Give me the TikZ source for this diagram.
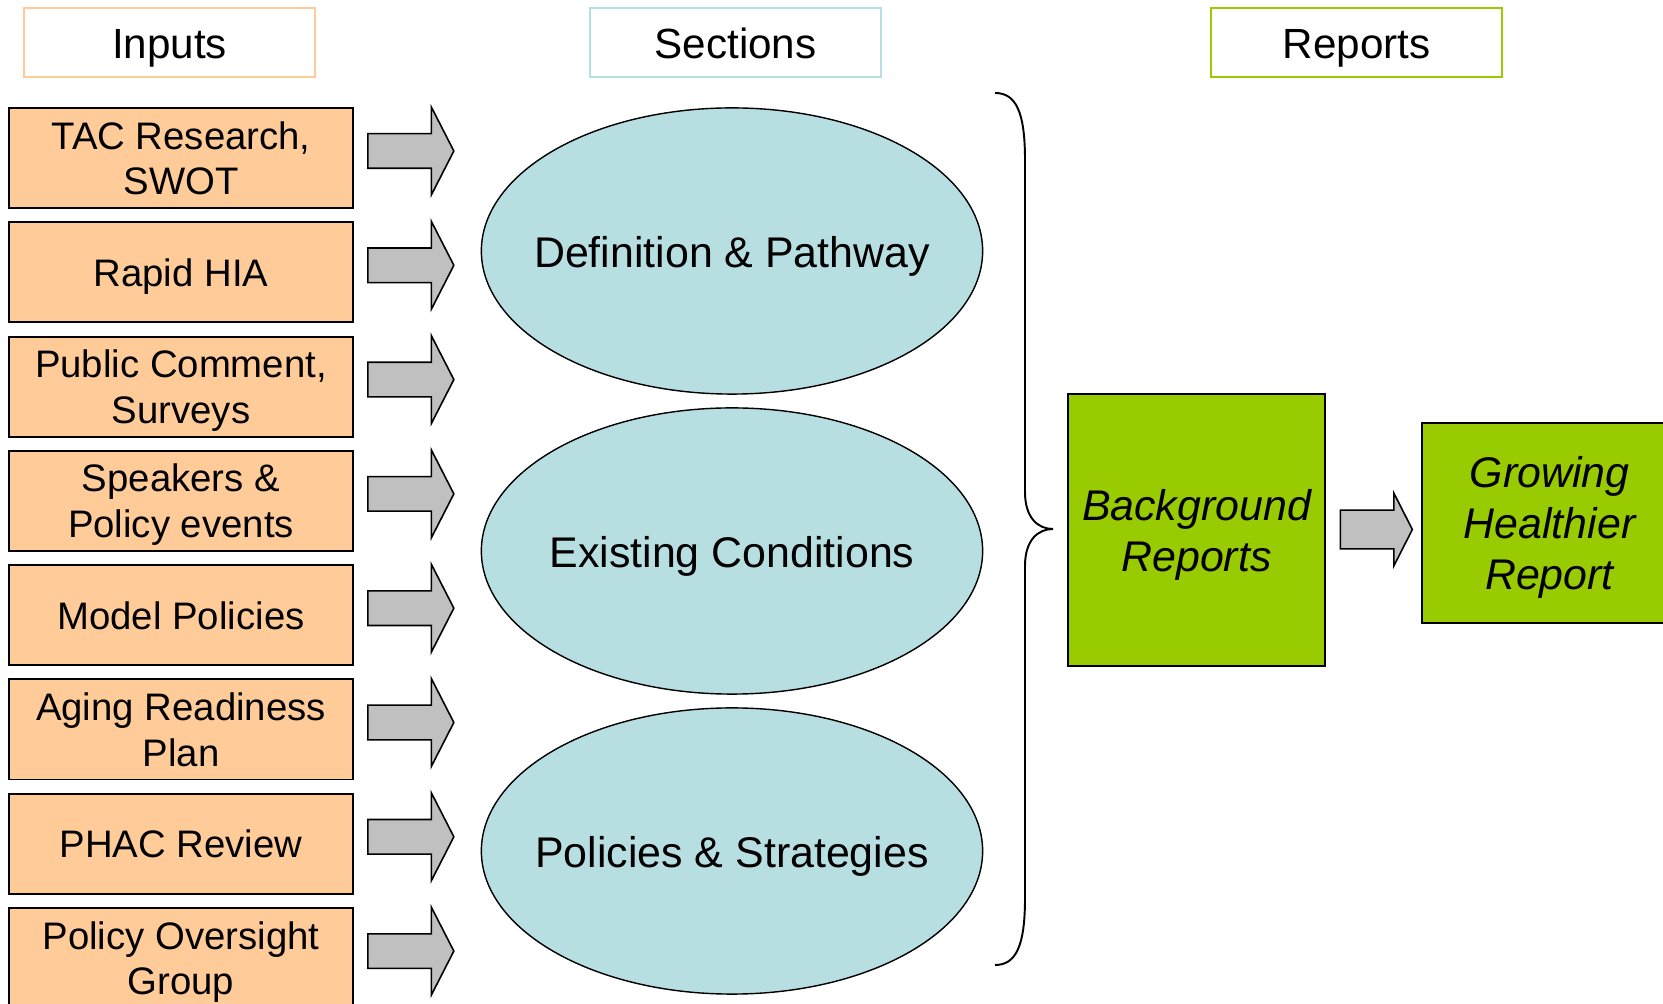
\documentclass[tikz,border=0pt]{standalone}
\usepackage{fontspec}
\setmainfont{Liberation Sans}
\usetikzlibrary{shapes.geometric,shapes.arrows}
\definecolor{inputorange}{HTML}{FFCC99}
\definecolor{sectionblue}{HTML}{B7DEE1}
\definecolor{reportgreen}{HTML}{99CC00}
\definecolor{arrowgray}{HTML}{C0C0C0}

\begin{document}
\begin{tikzpicture}[x=0.01cm, y=-0.01cm, every text node part/.style={align=center},
header/.style={draw, line width=0.6pt, fill=white, minimum width=2.91cm, minimum height=0.69cm, inner sep=0pt, text height=0.9em, text depth=0pt, font=\fontsize{12}{14.4}\selectfont},
inputbox/.style={draw, line width=0.55pt, fill=inputorange, minimum width=3.44cm, minimum height=1cm, inner sep=0pt, text depth=0pt, font=\fontsize{10.9}{13}\selectfont},
sectionellipse/.style={ellipse, draw, line width=0.4pt, fill=sectionblue, minimum width=5.01cm, minimum height=2.86cm, inner sep=-1cm, text height=0.92em, text depth=0pt, font=\fontsize{12.2}{14.6}\selectfont},
reportbox/.style={draw, line width=0.55pt, fill=reportgreen, inner sep=0pt, text depth=0pt, font=\fontsize{12.2}{14.5}\selectfont\itshape},
inputarrow/.style={single arrow, draw, line width=0.45pt, fill=arrowgray, inner xsep=0pt, inner ysep=0.165cm, minimum height=0.86cm, minimum width=0.86cm, single arrow head extend=0.265cm, single arrow tip angle=125.8, anchor=tail},
reportarrow/.style={single arrow, draw, line width=0.45pt, fill=arrowgray, inner xsep=0pt, inner ysep=0.185cm, minimum height=0.72cm, minimum width=0.71cm, single arrow head extend=0.17cm, single arrow tip angle=126.2, anchor=tail}]
\useasboundingbox (0,0) rectangle (1663,1004);
\node [header, draw=inputorange] (inputs) at (169.5,42.5) {Inputs};
\node [header, draw=sectionblue] (sections) at (735.5,42.5) {Sections};
\node [header, draw=reportgreen] (reports) at (1356.5,42.5) {Reports};
\node [inputbox] (tac) at (181,158) {TAC Research,\\SWOT};
\node [inputbox] (hia) at (181,272.3) {Rapid HIA};
\node [inputbox] (comment) at (181,386.6) {Public Comment,\\Surveys};
\node [inputbox] (speakers) at (181,500.9) {Speakers \&\\Policy events};
\node [inputbox] (model) at (181,615.2) {Model Policies};
\node [inputbox] (aging) at (181,729.5) {Aging Readiness\\Plan};
\node [inputbox] (phac) at (181,843.8) {PHAC Review};
\node [inputbox] (oversight) at (181,958.1) {Policy Oversight\\Group};
\node [inputarrow] (tacarrow) at (367,151) {};
\node [inputarrow] (hiaarrow) at (367,265.3) {};
\node [inputarrow] (commentarrow) at (367,379.6) {};
\node [inputarrow] (speakersarrow) at (367,493.9) {};
\node [inputarrow] (modelarrow) at (367,608.2) {};
\node [inputarrow] (agingarrow) at (367,722.5) {};
\node [inputarrow] (phacarrow) at (367,836.8) {};
\node [inputarrow] (oversightarrow) at (367,951.1) {};
\node [sectionellipse] (definition) at (732,251) {Definition \& Pathway};
\node [sectionellipse] (existing) at (732,551) {Existing Conditions};
\node [sectionellipse] (policies) at (732,851) {Policies \& Strategies};
\draw [line width=0.55pt] (995,93) .. controls (1016,93) and (1025,112) .. (1025,160) -- (1025,492) .. controls (1025,518) and (1038,529) .. (1053,529) .. controls (1038,529) and (1025,540) .. (1025,566) -- (1025,898) .. controls (1025,946) and (1016,965) .. (995,965);
\node [reportbox, minimum width=2.57cm, minimum height=2.71cm] (background) at (1196.5,530) {Background\\Reports};
\node [reportarrow] (reportsarrow) at (1339.5,529.5) {};
\node [reportbox, minimum width=2.55cm, minimum height=2cm] (growing) at (1549.5,523) {Growing\\Healthier\\Report};
\end{tikzpicture}
\end{document}
